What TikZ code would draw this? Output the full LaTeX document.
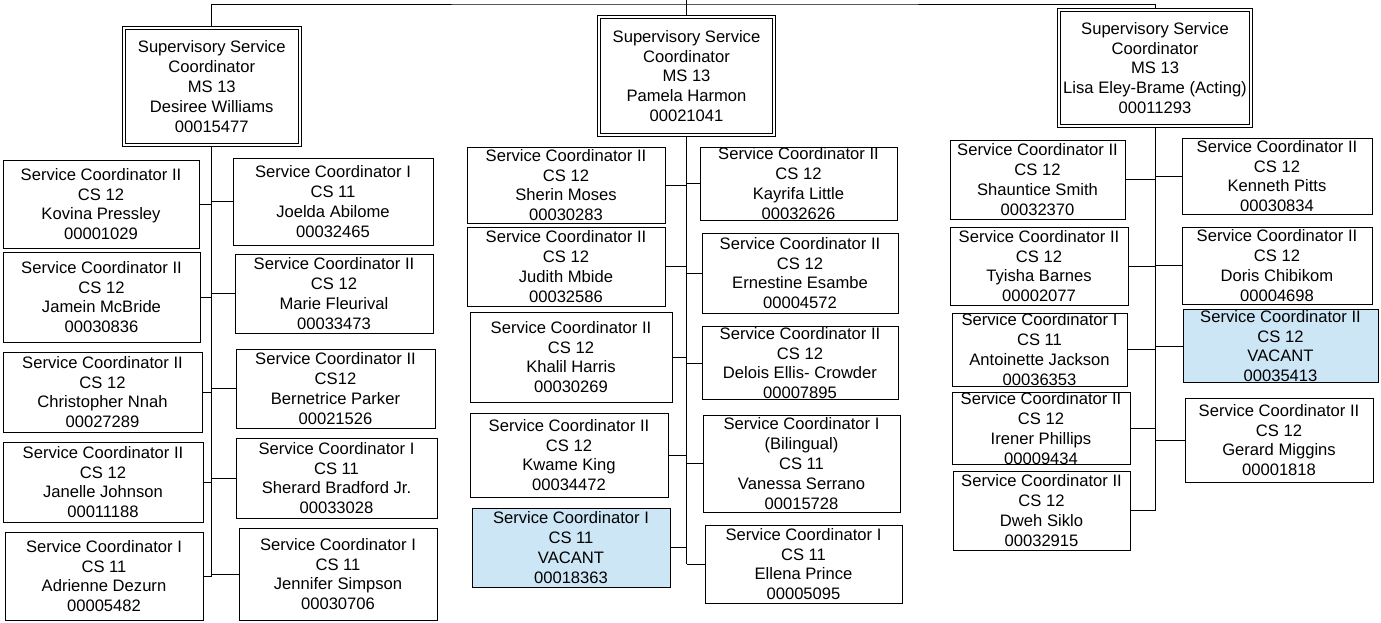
\documentclass[tikz,border=0pt]{standalone}
\usepackage{fontspec}
\setmainfont{Liberation Sans}
\definecolor{vacblue}{RGB}{205,230,246}
\begin{document}
\begin{tikzpicture}[x=1pt, y=-1pt, line width=1pt,
	   font=\fontsize{16.6}{19.8}\selectfont,
	   b/.style={draw, align=center, inner sep=0.5pt, fill=white},
	   sup/.style={b, double, double distance=2pt, outer sep=2pt},
	   vac/.style={fill=vacblue},
	   sz/.style 2 args={minimum width=#1pt, minimum height=#2pt}]
	  \useasboundingbox (0,0) rectangle (1381,622);
	  \node[sup, sz={176.5}{117}] (sa) at (211.75,86.5) {Supervisory Service\\ Coordinator\\ MS 13\\ Desiree Williams\\ 00015477};
	  \node[sup, sz={175}{118}] (sb) at (686.5,76) {Supervisory Service\\ Coordinator\\ MS 13\\ Pamela Harmon\\ 00021041};
	  \node[sup, sz={192}{116}] (sc) at (1155,68) {Supervisory Service\\ Coordinator\\ MS 13\\ Lisa Eley-Brame (Acting)\\ 00011293};
	  \node[b, sz={196}{88}] (al1) at (101,204) {Service Coordinator II\\ CS 12\\ Kovina Pressley\\ 00001029};
	  \node[b, sz={200}{87}] (ar1) at (333,201.5) {Service Coordinator I\\ CS 11\\ Joelda Abilome\\ 00032465};
	  \node[b, sz={197}{90}] (al2) at (101.5,297) {Service Coordinator II\\ CS 12\\ Jamein McBride\\ 00030836};
	  \node[b, sz={198}{79}] (ar2) at (334,293.5) {Service Coordinator II\\ CS 12\\ Marie Fleurival\\ 00033473};
	  \node[b, sz={199}{80}] (al3) at (102.5,392) {Service Coordinator II\\ CS 12\\ Christopher Nnah\\ 00027289};
	  \node[b, sz={199}{79}] (ar3) at (335.5,388.5) {Service Coordinator II\\ CS12\\ Bernetrice Parker\\ 00021526};
	  \node[b, sz={200}{80}] (al4) at (103,482) {Service Coordinator II\\ CS 12\\ Janelle Johnson\\ 00011188};
	  \node[b, sz={201}{80}] (ar4) at (336.5,478) {Service Coordinator I\\ CS 11\\ Sherard Bradford Jr.\\ 00033028};
	  \node[b, sz={198}{88}] (al5) at (104,576) {Service Coordinator I\\ CS 11\\ Adrienne Dezurn\\ 00005482};
	  \node[b, sz={198}{92}] (ar5) at (338,574) {Service Coordinator I\\ CS 11\\ Jennifer Simpson\\ 00030706};
	  \node[b, sz={198}{76}] (bl1) at (566,185) {Service Coordinator II\\ CS 12\\ Sherin Moses\\ 00030283};
	  \node[b, sz={197}{73}] (br1) at (798.5,183.5) {Service Coordinator II\\ CS 12\\ Kayrifa Little\\ 00032626};
	  \node[b, sz={198}{79}] (bl2) at (566,266.5) {Service Coordinator II\\ CS 12\\ Judith Mbide\\ 00032586};
	  \node[b, sz={196}{80}] (br2) at (800,273) {Service Coordinator II\\ CS 12\\ Ernestine Esambe\\ 00004572};
	  \node[b, sz={202}{90}] (bl3) at (571,357) {Service Coordinator II\\ CS 12\\ Khalil Harris\\ 00030269};
	  \node[b, sz={196}{72}] (br3) at (800,363) {Service Coordinator II\\ CS 12\\ Delois Ellis- Crowder\\ 00007895};
	  \node[b, sz={198}{84}] (bl4) at (569,455) {Service Coordinator II\\ CS 12\\ Kwame King\\ 00034472};
	  \node[b, sz={197}{97}] (br4) at (801.5,463.5) {Service Coordinator I\\ (Bilingual)\\ CS 11\\ Vanessa Serrano\\ 00015728};
	  \node[b, vac, sz={198}{79}] (bl5) at (571,547.5) {Service Coordinator I\\ CS 11\\ VACANT\\ 00018363};
	  \node[b, sz={197}{78}] (br5) at (803.5,564) {Service Coordinator I\\ CS 11\\ Ellena Prince\\ 00005095};
	  \node[b, sz={175}{79}] (cl1) at (1037.5,179.5) {Service Coordinator II\\ CS 12\\ Shauntice Smith\\ 00032370};
	  \node[b, sz={190}{76}] (cr1) at (1277,176) {Service Coordinator II\\ CS 12\\ Kenneth Pitts\\ 00030834};
	  \node[b, sz={178}{78}] (cl2) at (1039,266) {Service Coordinator II\\ CS 12\\ Tyisha Barnes\\ 00002077};
	  \node[b, sz={190}{77}] (cr2) at (1277,265.5) {Service Coordinator II\\ CS 12\\ Doris Chibikom\\ 00004698};
	  \node[b, sz={175}{73}] (cl3) at (1039.5,349.5) {Service Coordinator I\\ CS 11\\ Antoinette Jackson\\ 00036353};
	  \node[b, vac, sz={195}{72}] (cr3) at (1280.5,346) {Service Coordinator II\\ CS 12\\ VACANT\\ 00035413};
	  \node[b, sz={178}{71}] (cl4) at (1041,428.5) {Service Coordinator II\\ CS 12\\ Irener Phillips\\ 00009434};
	  \node[b, sz={188}{84}] (cr4) at (1279,440) {Service Coordinator II\\ CS 12\\ Gerard Miggins\\ 00001818};
	  \node[b, sz={177}{79}] (cl5) at (1041.5,510.5) {Service Coordinator II\\ CS 12\\ Dweh Siklo\\ 00032915};
	  \coordinate (up) at (686.5,0);
	  \coordinate (bus) at (686.5,4);
	  \draw (up)--(sb.north);
	  \draw (sa.north) |- (bus) -| (sc.north);
	  \draw (sa.south)--(sa.south |- al5.east);
	  \draw (sb.south)--(sb.south |- br5.west);
	  \draw (sc.south)--(sc.south |- cl5.east);
	  \foreach \n in {al1,al2,al3,al4,al5}
	    \draw (\n.east)--(\n.east -| sa.south);
	  \foreach \n in {ar1,ar2,ar3,ar4,ar5}
	    \draw (\n.west)--(\n.west -| sa.south);
	  \foreach \n in {bl1,bl2,bl3,bl4,bl5}
	    \draw (\n.east)--(\n.east -| sb.south);
	  \foreach \n in {br1,br2,br3,br4,br5}
	    \draw (\n.west)--(\n.west -| sb.south);
	  \foreach \n in {cl1,cl2,cl3,cl4,cl5}
	    \draw (\n.east)--(\n.east -| sc.south);
	  \foreach \n in {cr1,cr2,cr3,cr4}
	    \draw (\n.west)--(\n.west -| sc.south);
	\end{tikzpicture}
\end{document}
